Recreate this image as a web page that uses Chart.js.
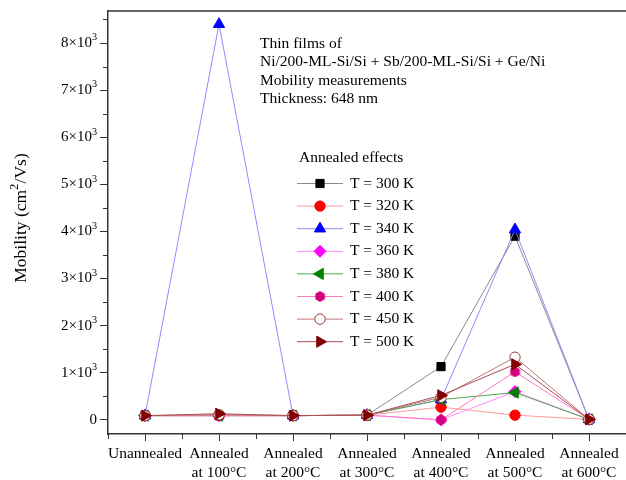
<!DOCTYPE html>
<html lang="en">
<head>
  <meta charset="UTF-8" />
  <title>Mobility vs annealing</title>
  <script src="https://cdn.jsdelivr.net/npm/chart.js"></script>
  <style>
    html, body { margin: 0; padding: 0; background: #fff; }
    canvas { display: block; }
  </style>
</head>
<body>
  <canvas id="mobilityChart" width="626" height="480"></canvas>
<script>
  // Annealing steps (x axis)
  const categories = [
    ['Unannealed'],
    ['Annealed', 'at 100°C'],
    ['Annealed', 'at 200°C'],
    ['Annealed', 'at 300°C'],
    ['Annealed', 'at 400°C'],
    ['Annealed', 'at 500°C'],
    ['Annealed', 'at 600°C']
  ];

  // Mobility (cm2/Vs) for each measuring temperature
  const t300 = [90, 90, 90, 100, 1130, 3900, 10];
  const t320 = [90, 90, 90, 100, 270, 100, 10];
  const t340 = [90, 8400, 90, 100, 430, 4040, 10];
  const t360 = [90, 90, 90, 100, 0, 600, 10];
  const t380 = [90, 90, 90, 100, 430, 580, 10];
  const t400 = [90, 90, 90, 100, 0, 1020, 10];
  const t450 = [90, 110, 90, 100, 480, 1330, 10];
  const t500 = [90, 130, 90, 100, 520, 1180, 10];

  const seriesNames = ['T = 300 K', 'T = 320 K', 'T = 340 K', 'T = 360 K',
                       'T = 380 K', 'T = 400 K', 'T = 450 K', 'T = 500 K'];
  const seriesValues = [t300, t320, t340, t360, t380, t400, t450, t500];

  // y tick values, label mantissa and exponent (drawn as a superscript)
  const yTicks = [0, 1000, 2000, 3000, 4000, 5000, 6000, 7000, 8000];
  const yTickBase = ['0', '1×10', '2×10', '3×10', '4×10', '5×10', '6×10', '7×10', '8×10'];
  const yTickExp = ['', '3', '3', '3', '3', '3', '3', '3', '3'];
  const yTitle = ['Mobility (cm', '2', '/Vs)'];

  const notes = [
    'Thin films of',
    'Ni/200-ML-Si/Si + Sb/200-ML-Si/Si + Ge/Ni',
    'Mobility measurements',
    'Thickness: 648 nm'
  ];
  const legendTitle = 'Annealed effects';

  const SERIF = '"Liberation Serif", "DejaVu Serif", serif';

  // small filled hexagon used as a point style
  function hexagon(size, color) {
    const c = document.createElement('canvas');
    c.width = size; c.height = size;
    const g = c.getContext('2d');
    const r = size / 2;
    g.beginPath();
    for (let k = 0; k < 6; k++) {
      const a = Math.PI / 6 + k * Math.PI / 3;
      const px = r + r * Math.cos(a), py = r + r * Math.sin(a);
      if (k === 0) g.moveTo(px, py); else g.lineTo(px, py);
    }
    g.closePath();
    g.fillStyle = color;
    g.fill();
    return c;
  }

  const styles = [
    { line: '#8a8a8a', fill: '#000000', edge: '#000000', shape: 'rect', rot: 0, r: 5.8 },
    { line: '#ff9a9a', fill: '#ff0000', edge: '#ff0000', shape: 'circle', rot: 0, r: 5.2 },
    { line: '#8c8cff', fill: '#0000ff', edge: '#0000ff', shape: 'triangle', rot: 0, r: 6.5 },
    { line: '#ff8cff', fill: '#ff00ff', edge: '#ff00ff', shape: 'rectRot', rot: 0, r: 6 },
    { line: '#50a850', fill: '#008000', edge: '#008000', shape: 'triangle', rot: -90, r: 6.5 },
    { line: '#ff78c4', fill: '#d6007c', edge: '#d6007c', shape: hexagon(11, '#d6007c'), rot: 0, r: 5.5 },
    { line: '#c07878', fill: '#ffffff', edge: '#a03a3a', shape: 'circle', rot: 0, r: 5.2 },
    { line: '#a85050', fill: '#800000', edge: '#800000', shape: 'triangle', rot: 90, r: 6.5 }
  ];

  const datasets = seriesNames.map((name, i) => ({
    label: name,
    data: seriesValues[i].map((v, j) => ({ x: j, y: v })),
    borderColor: styles[i].line,
    borderWidth: 1,
    backgroundColor: styles[i].fill,
    pointStyle: styles[i].shape,
    pointRotation: styles[i].rot,
    pointRadius: styles[i].r,
    pointBackgroundColor: styles[i].fill,
    pointBorderColor: styles[i].edge,
    pointBorderWidth: 1,
    tension: 0,
    order: seriesNames.length - i
  }));

  // text with a raised exponent, drawn left-aligned at x
  function supText(ctx, parts, x, y, size) {
    let cx = x;
    parts.forEach((p, k) => {
      const sup = k % 2 === 1;
      ctx.font = (sup ? size * 0.68 : size) + 'px ' + SERIF;
      ctx.fillText(p, cx, sup ? y - size * 0.36 : y);
      cx += ctx.measureText(p).width + (sup ? 0.5 : 0);
    });
  }
  function supWidth(ctx, parts, size) {
    let w = 0;
    parts.forEach((p, k) => {
      const sup = k % 2 === 1;
      ctx.font = (sup ? size * 0.68 : size) + 'px ' + SERIF;
      w += ctx.measureText(p).width + (sup ? 0.5 : 0);
    });
    return w;
  }

  // frame top, minor ticks, y labels, the notes and the legend box
  const decor = {
    id: 'decor',
    afterDraw(chart) {
      const { ctx, chartArea: a, scales } = chart;
      const x = scales.x, y = scales.y;
      ctx.save();
      ctx.strokeStyle = '#333';
      ctx.lineWidth = 1.5;
      ctx.beginPath();
      ctx.moveTo(a.left, a.top);
      ctx.lineTo(a.right, a.top);
      ctx.stroke();

      ctx.lineWidth = 1;
      ctx.beginPath();
      for (let v = 500; v < y.max; v += 1000) {
        const py = Math.round(y.getPixelForValue(v)) + 0.5;
        ctx.moveTo(a.left - 5, py);
        ctx.lineTo(a.left, py);
      }
      for (let v = -0.5; v < x.max; v += 1) {
        const px = Math.round(x.getPixelForValue(v)) + 0.5;
        ctx.moveTo(px, a.bottom);
        ctx.lineTo(px, a.bottom + 5);
      }
      ctx.stroke();

      ctx.fillStyle = '#000';
      ctx.textBaseline = 'middle';
      ctx.textAlign = 'left';

      // y tick labels, right aligned against the tick marks
      yTicks.forEach((v, k) => {
        const parts = [yTickBase[k], yTickExp[k]];
        const w = supWidth(ctx, parts, 15);
        supText(ctx, parts, a.left - 10.5 - w, y.getPixelForValue(v), 15);
      });

      // y axis title, rotated
      ctx.save();
      ctx.translate(21, 218);
      ctx.rotate(-Math.PI / 2);
      const tw = supWidth(ctx, yTitle, 17.5);
      supText(ctx, yTitle, -tw / 2, 0, 17.5);
      ctx.restore();

      ctx.font = '15.5px ' + SERIF;
      notes.forEach((t, k) => ctx.fillText(t, 260, 43.5 + k * 18.6));

      ctx.fillText(legendTitle, 299, 158);
      chart.data.datasets.forEach((ds, k) => {
        const ly = 183.5 + k * 22.6;
        ctx.strokeStyle = ds.borderColor;
        ctx.lineWidth = 1;
        ctx.beginPath();
        ctx.moveTo(297, ly);
        ctx.lineTo(343, ly);
        ctx.stroke();
        ctx.fillStyle = ds.pointBackgroundColor;
        ctx.strokeStyle = ds.pointBorderColor;
        Chart.helpers.drawPoint(ctx, {
          pointStyle: ds.pointStyle,
          rotation: ds.pointRotation,
          radius: ds.pointRadius,
          borderWidth: 1
        }, 320, ly);
        ctx.fillStyle = '#000';
        ctx.fillText(ds.label, 350, ly);
      });
      ctx.restore();
    }
  };

  new Chart(document.getElementById('mobilityChart'), {
    type: 'line',
    data: { datasets },
    options: {
      responsive: false,
      animation: false,
      devicePixelRatio: 1,
      layout: { autoPadding: false, padding: { top: 11, right: 0, left: 0, bottom: 0 } },
      plugins: { legend: { display: false }, tooltip: { enabled: false } },
      scales: {
        x: {
          type: 'linear',
          min: -0.5,
          max: 6.5,
          afterBuildTicks: s => { s.ticks = categories.map((c, i) => ({ value: i })); },
          afterFit: s => { s.height = 46; },
          ticks: {
            callback: v => categories[v],
            color: '#000',
            font: { family: SERIF, size: 15.5 },
            padding: 4,
            maxRotation: 0,
            autoSkip: false
          },
          grid: { drawOnChartArea: false, tickLength: 7, color: '#333', tickWidth: 1 },
          border: { color: '#333', width: 1.5 }
        },
        y: {
          min: -300,
          max: 8680,
          afterBuildTicks: s => { s.ticks = yTicks.map(v => ({ value: v })); },
          afterFit: s => { s.width = 108; },
          ticks: { callback: () => '', padding: 1 },
          grid: { drawOnChartArea: false, tickLength: 8, color: '#333', tickWidth: 1 },
          border: { color: '#333', width: 1.5 }
        }
      }
    },
    plugins: [decor]
  });
</script>
</body>
</html>
